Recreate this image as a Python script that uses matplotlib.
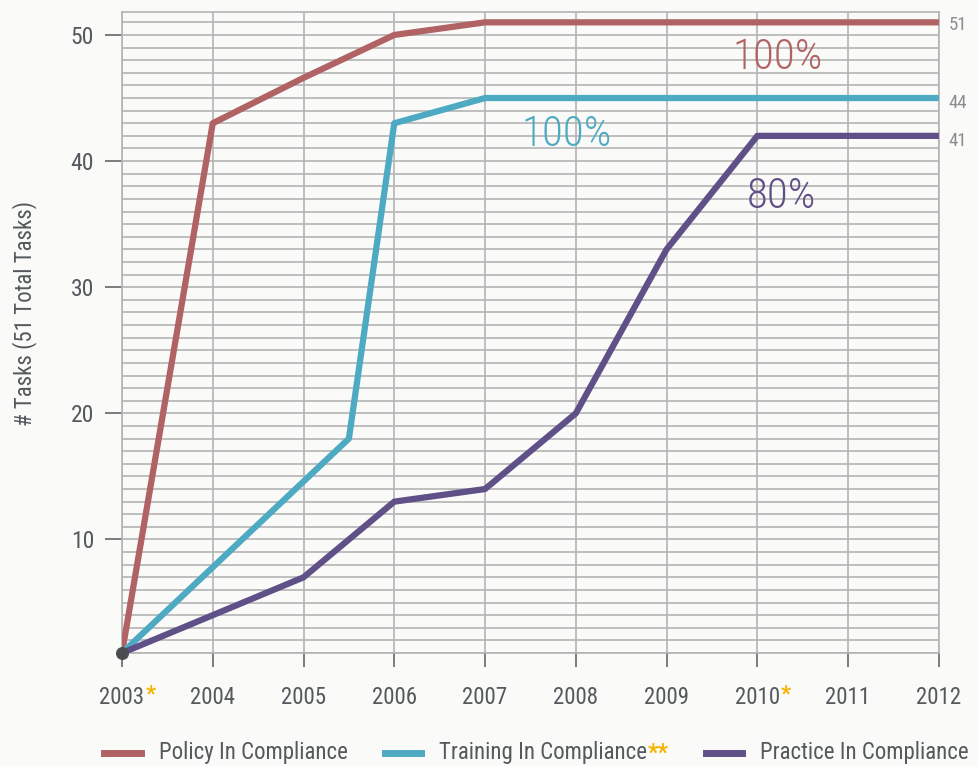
import matplotlib
matplotlib.use("Agg")
import matplotlib.pyplot as plt
from matplotlib import font_manager as fm
from matplotlib.lines import Line2D
from matplotlib.offsetbox import AnchoredOffsetbox, HPacker, TextArea, DrawingArea

# data
policy_x = [2003, 2004, 2005, 2006, 2007, 2012]
policy_y = [1, 43, 46.6, 50, 51, 51]
training_x = [2003, 2005.5, 2006, 2007, 2012]
training_y = [1, 18, 43, 45, 45]
practice_x = [2003, 2004, 2005, 2006, 2007, 2008, 2009, 2010, 2012]
practice_y = [1, 4, 7, 13, 14, 20, 33, 42, 42]
years = list(range(2003, 2013))
starred_years = ['2003', '2010']
end_labels = ["51", "44", "41"]
pct_labels = ["100%", "100%", "80%"]
series_names = ['Policy In Compliance', 'Training In Compliance', 'Practice In Compliance']
series_stars = ['', '**', '']

c_policy = '#b06264'
c_training = '#4eaac2'
c_practice = '#5f5088'
c_text = '#54595d'
c_star = '#f6b300'
bg = '#fafaf8'


def pick(cands):
    for c in cands:
        try:
            fm.findfont(fm.FontProperties(family=c), fallback_to_default=False)
            return c
        except Exception:
            pass
    return 'DejaVu Sans'


main_font = pick(['Roboto Condensed', 'Noto Sans Condensed', 'Liberation Sans Narrow',
                  'Open Sans Condensed', 'Roboto', 'Lato'])
plt.rcParams['font.family'] = [main_font, 'DejaVu Sans']
plt.rcParams['font.stretch'] = 'condensed'

fig = plt.figure(figsize=(9.79, 7.66), dpi=100, facecolor=bg)
ax = fig.add_axes([0.1246, 0.1475, 0.8344, 0.8365], facecolor=bg)

# grid: every unit horizontally, every year vertically
for v in range(1, 52):
    ax.axhline(v, color='#b4b4b4', lw=1.2, zorder=0)
for yr in years:
    ax.axvline(yr, color='#b4b4b4', lw=1.2, zorder=0)

ax.plot(policy_x, policy_y, color=c_policy, lw=4.5, solid_capstyle='butt', zorder=3)
ax.plot(training_x, training_y, color=c_training, lw=4.5, solid_capstyle='butt', zorder=3)
ax.plot(practice_x, practice_y, color=c_practice, lw=4.5, solid_capstyle='butt', zorder=3)
ax.scatter([2003], [1], s=70, color='#4a4d50', zorder=5, clip_on=False)

ax.set_xlim(2003, 2012)
ax.set_ylim(1, 51.8)
for s in ax.spines.values():
    s.set_color('#b4b4b4')
    s.set_linewidth(1.2)

ax.set_yticks([10, 20, 30, 40, 50])
ax.set_xticks(years)
ax.set_xticklabels([str(y) for y in years])
ax.tick_params(axis='y', length=12, width=1.2, color='#666666', labelsize=17, labelcolor=c_text, pad=8)
ax.tick_params(axis='x', length=10, width=1.2, color='#666666', labelsize=16.5, labelcolor=c_text, pad=14)
ax.set_ylabel('# Tasks (51 Total Tasks)', fontsize=16.5, color=c_text, labelpad=24, y=0.53)

# stars after some year labels
fig.canvas.draw()
rend = fig.canvas.get_renderer()
for lab in ax.get_xticklabels():
    if lab.get_text() in starred_years:
        bb = lab.get_window_extent(rend)
        fig.text(bb.x1 / fig.bbox.width + 0.001, (bb.y0 + bb.y1) / 2 / fig.bbox.height + 0.004, '*',
                 color=c_star, fontsize=16, fontweight='bold', ha='left', va='center')

# big percentage labels
pct_kw = dict(fontsize=31, fontweight='light', ha='center', va='center')
ax.text(2010.22, 48.2, pct_labels[0], color=c_policy, **pct_kw)
ax.text(2007.9, 42.1, pct_labels[1], color=c_training, **pct_kw)
ax.text(2010.27, 37.2, pct_labels[2], color=c_practice, **pct_kw)

# end values on the right
for val, lab in zip([51, 44.8, 41.8], end_labels):
    ax.annotate(lab, xy=(1, val), xycoords=('axes fraction', 'data'), xytext=(7, -2),
                textcoords='offset points', fontsize=13.5, color='#8a8d90', ha='left', va='center')

# legend built from offset boxes so the orange stars sit right after the text
entries = []
for name, star, col in zip(series_names, series_stars, [c_policy, c_training, c_practice]):
    da = DrawingArea(26, 8, 0, 0)
    da.add_artist(Line2D([0, 26], [4, 4], color=col, lw=5))
    parts = [TextArea(name, textprops=dict(color=c_text, fontsize=16.5))]
    if star:
        parts.append(TextArea(star, textprops=dict(color=c_star, fontsize=16.5, fontweight='bold')))
    txt = HPacker(children=parts, sep=0, align='baseline')
    entries.append(HPacker(children=[da, txt], sep=13, align='center'))
legend_box = HPacker(children=entries, sep=27, align='center')
anch = AnchoredOffsetbox(loc='center', child=legend_box, frameon=False,
                         bbox_to_anchor=(0.548, 0.017), bbox_transform=fig.transFigure, pad=0)
fig.add_artist(anch)

fig.savefig('out.png', dpi=100, facecolor=bg)
